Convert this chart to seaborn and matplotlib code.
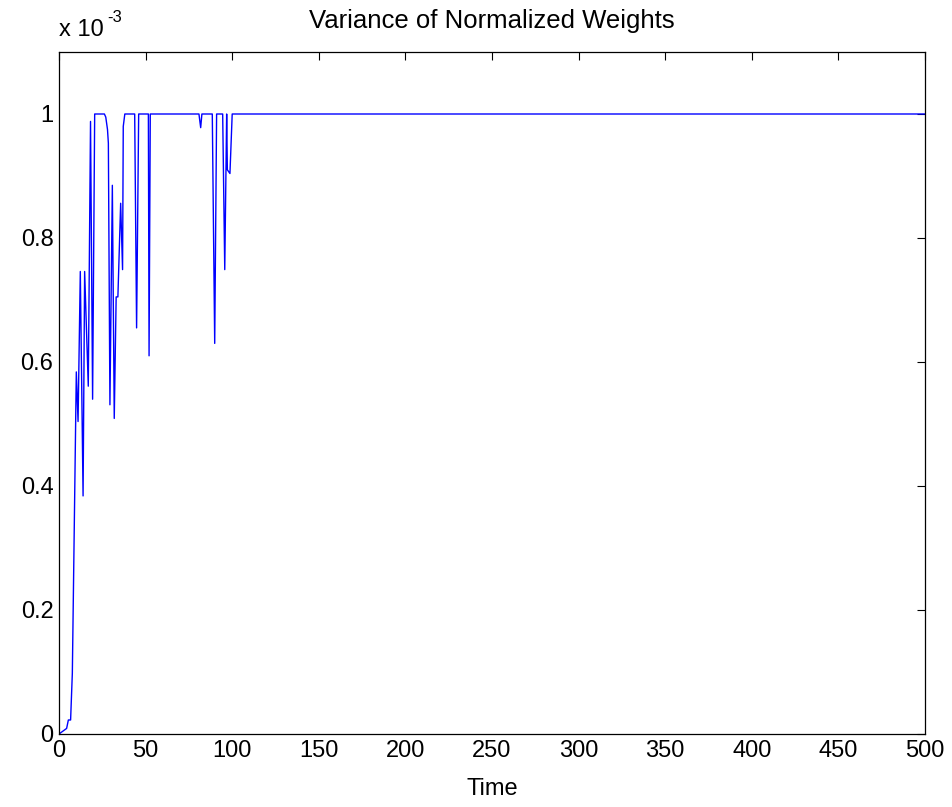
import matplotlib
matplotlib.use("Agg")
import matplotlib.pyplot as plt
import seaborn as sns
import pandas as pd

# Breakpoints of the piecewise-linear trace (values in units of 1e-3)
time = [0, 4.4, 5.4, 6.7, 7.7, 10, 11, 12.3, 13.9, 14.8, 16.9, 18.2, 19.4, 20.6,
        26.2, 27, 28, 28.5, 29.4, 30.8, 31.9, 33, 34, 35.6, 36.7, 37.1, 38,
        43.7, 44.8, 46, 51.6, 52, 52.7, 80.8, 81.8, 82.5, 88.5, 89.9, 91,
        94.5, 95.7, 96.8, 97.2, 98.7, 100, 500]
variance = [0, 0.009, 0.0226, 0.0226, 0.098, 0.584, 0.504, 0.746, 0.384, 0.746, 0.561, 0.988, 0.540, 1.0,
            1.0, 0.995, 0.975, 0.953, 0.531, 0.885, 0.509, 0.705, 0.705, 0.856, 0.749, 0.98, 1.0,
            1.0, 0.655, 1.0, 1.0, 0.610, 1.0, 1.0, 0.978, 1.0, 1.0, 0.630, 1.0,
            1.0, 0.749, 1.0, 0.910, 0.904, 1.0, 1.0]

xticks = [0, 50, 100, 150, 200, 250, 300, 350, 400, 450, 500]
yticks = [0, 0.2, 0.4, 0.6, 0.8, 1.0]
ytick_labels = ["0", "0.2", "0.4", "0.6", "0.8", "1"]

sns.set_style("white")
plt.rcParams["font.family"] = ["Liberation Sans", "DejaVu Sans"]
plt.rcParams["text.color"] = "black"
plt.rcParams["axes.labelcolor"] = "black"

fig = plt.figure(figsize=(9.53, 8.07), dpi=100)
ax = fig.add_axes([59/953, 73/807, (925-59)/953, (734-52)/807])

df = pd.DataFrame({"Time": time, "Var": variance})
sns.lineplot(data=df, x="Time", y="Var", ax=ax, color="#0000ff",
             linewidth=1.0, estimator=None, sort=False)

ax.set_xlim(0, 500)
ax.set_ylim(0, 1.1)
ax.set_xticks(xticks)
ax.set_xticklabels([str(t) for t in xticks])
ax.set_yticks(yticks)
ax.set_yticklabels(ytick_labels)
ax.tick_params(direction="in", length=6, width=0.8, top=True, right=True,
               labelsize=17, colors="black", pad=4)
for s in ax.spines.values():
    s.set_color("black")
    s.set_linewidth(0.9)

ax.set_xlabel("Time", fontsize=17, labelpad=12, color="black")
ax.set_ylabel("")
ax.set_title("Variance of Normalized Weights", fontsize=18.5, pad=17, color="black")
fig.text(59/953, (807-36)/807, "x 10", fontsize=17, ha="left", va="baseline")
fig.text(107/953, (807-22)/807, "-3", fontsize=12, ha="left", va="baseline")

fig.savefig("out.png", dpi=100)
